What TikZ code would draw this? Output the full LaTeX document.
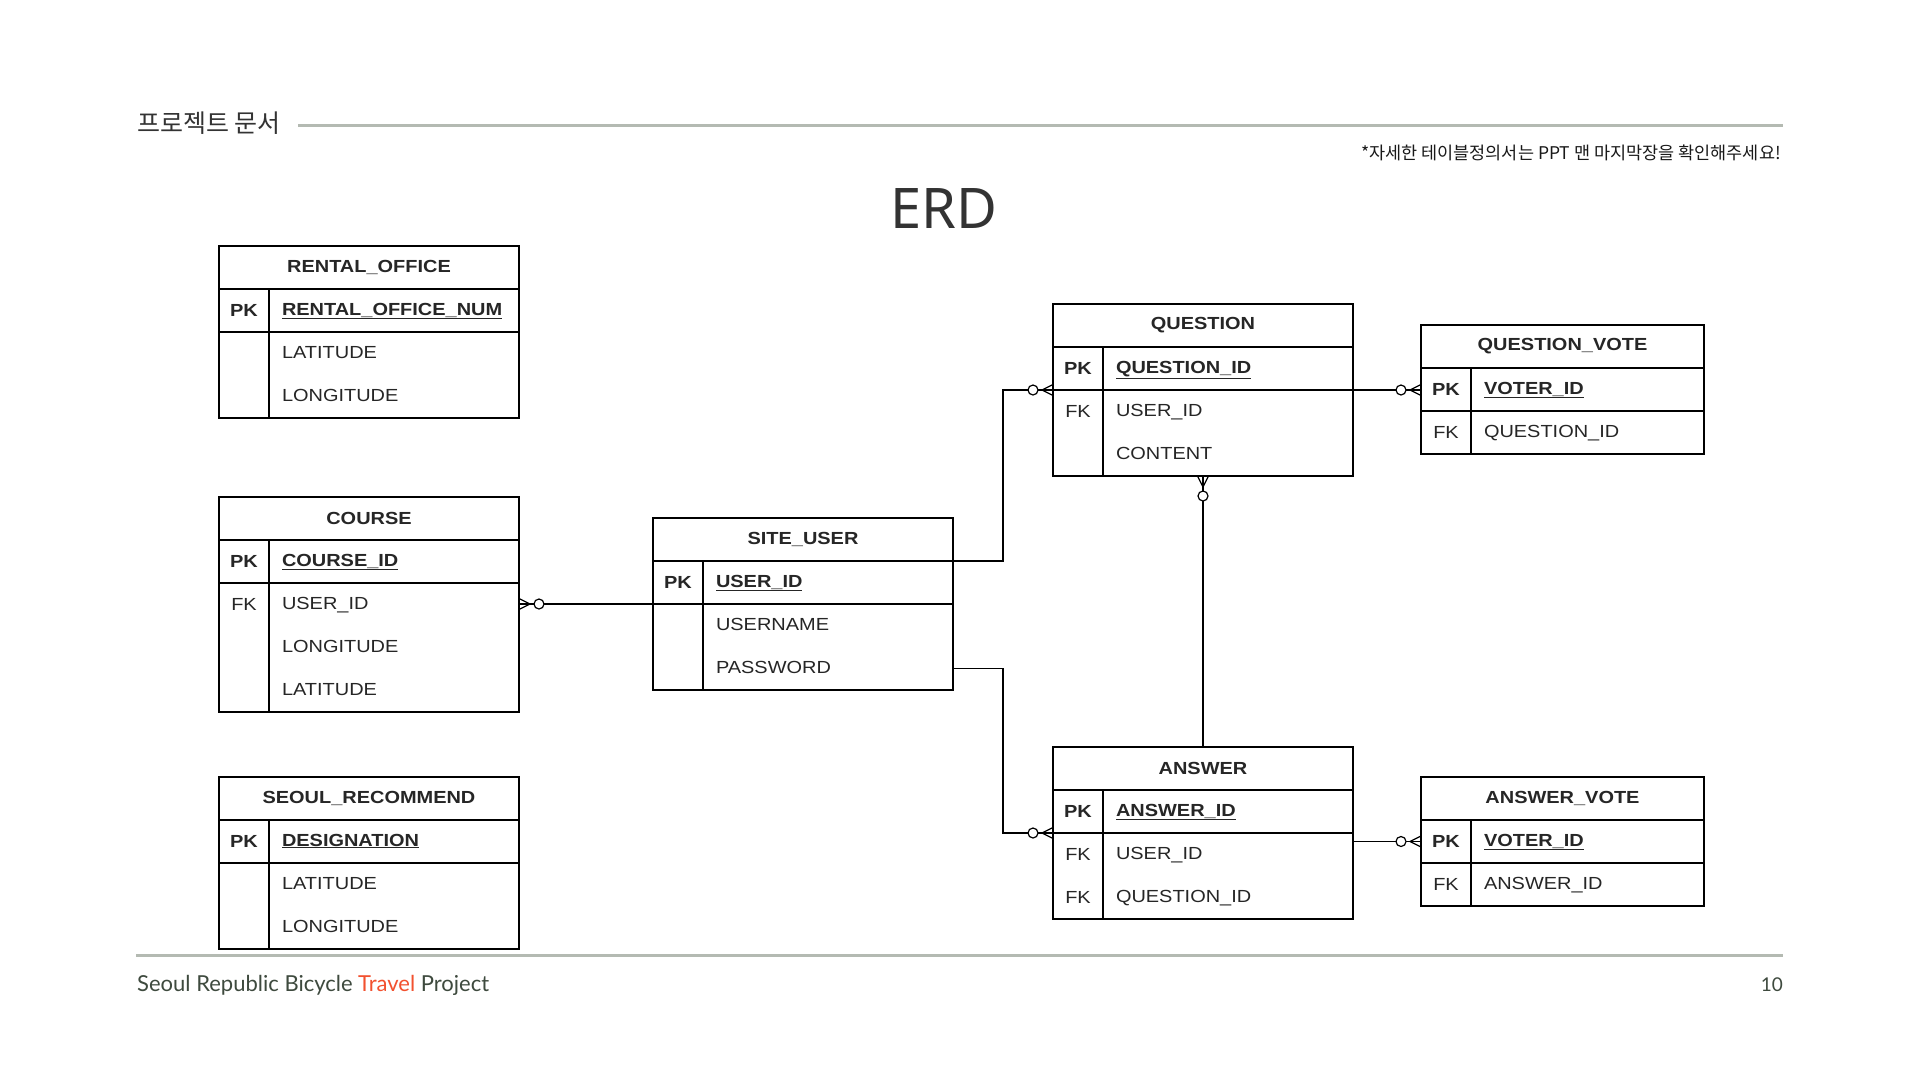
\documentclass[tikz,border=0pt]{standalone}
\usepackage{fontspec}
\setmainfont{Liberation Sans}
\newfontfamily\erdfont{Liberation Sans}[FakeStretch=1.14]
\newfontfamily\krfont{Noto Sans CJK KR}
\newfontfamily\titlefont{Noto Sans}
\newfontfamily\footfont{Lato}
\usetikzlibrary{positioning,fit,decorations.markings}

\definecolor{rulegray}{HTML}{B4BAB2}
\definecolor{textgray}{HTML}{333333}
\definecolor{footgreen}{HTML}{3E4A3E}
\definecolor{travelred}{HTML}{F2512F}

\newcommand{\tabfont}{\erdfont\fontsize{17.5}{20}\selectfont}
\newcommand{\pkname}[1]{\underline{#1}}

\begin{document}
\begin{tikzpicture}[
  x=1pt,
  y=-1pt
]

  \tikzstyle{tabtitle}=[draw,rectangle,line width=1.5pt,outer sep=0pt,inner sep=0pt,minimum width=300pt,minimum height=43pt,anchor=north west,text=black!85,font=\tabfont\bfseries]
  \tikzstyle{keyrow}=[rectangle,line width=1.5pt,outer sep=0pt,inner sep=0pt,minimum width=50pt,minimum height=43pt,text=black!85,font=\tabfont]
  \tikzstyle{keycell}=[keyrow,draw]
  \tikzstyle{pkcell}=[keycell,font=\tabfont\bfseries]
  \tikzstyle{fieldrow}=[rectangle,line width=1.5pt,outer sep=0pt,inner xsep=13pt,inner ysep=0pt,minimum width=250pt,minimum height=43pt,text width=224pt,align=left,text height=13pt,text depth=4pt,text=black!85,font=\tabfont]
  \tikzstyle{fieldcell}=[fieldrow,draw]
  \tikzstyle{pkfield}=[fieldcell,font=\tabfont\bfseries]
  \tikzstyle{narrowtitle}=[minimum width=283pt]
  \tikzstyle{narrow}=[minimum width=233pt,text width=207pt]
  \tikzstyle{group}=[draw,rectangle,line width=1.5pt,inner sep=0pt,outer sep=0pt]
  \tikzstyle{rel}=[draw,line width=1.3pt]
  \tikzstyle{zeromany}=[postaction={decorate,decoration={markings,mark=at position 1 with {
      \draw[line width=1.2pt] (-11pt,0pt) -- (0pt,5.5pt) (-11pt,0pt) -- (0pt,-5.5pt);
      \draw[line width=1.2pt,fill=white] (-20pt,0pt) circle (5pt);}}}]

  \useasboundingbox (0,0) rectangle (1920,1080);
  \fill[white] (0,0) rectangle (1920,1080);

  % header and footer
  \node[anchor=west,inner sep=0pt,text=textgray,font=\krfont\fontsize{25}{28}\selectfont] (hdr) at (137,123) {프로젝트 문서};
  \coordinate (rulel) at (298,125);
  \coordinate (ruler) at (1783,125);
  \draw[rulegray,line width=3pt] (rulel) -- (ruler);
  \node[anchor=east,inner sep=0pt,text=black!90,font=\krfont\fontsize{17.5}{20}\selectfont] (note) at (1781,153) {*자세한 테이블정의서는 PPT 맨 마지막장을 확인해주세요!};
  \node[inner sep=0pt,text=textgray,font=\titlefont\fontsize{56}{60}\selectfont] (erd) at (944,209) {ERD};

  \coordinate (footl) at (136,955);
  \coordinate (footr) at (1783,955);
  \draw[rulegray,line width=3pt] (footl) -- (footr);
  \node[anchor=west,inner sep=0pt,text=footgreen,font=\footfont\fontsize{22}{26}\selectfont] (foot) at (137,985) {Seoul Republic Bicycle \textcolor{travelred}{Travel} Project};
  \node[anchor=east,inner sep=0pt,text=footgreen,font=\footfont\fontsize{19}{24}\selectfont] (pgno) at (1783,985) {10};

  % RENTAL_OFFICE
  \node[tabtitle] (ro) at (219,246) {RENTAL\_OFFICE};
  \node[pkcell, below right=0pt and 0pt of ro.south west] (ro-k1) {PK};
  \node[pkfield, right=0pt of ro-k1] (ro-f1) {\pkname{RENTAL\_OFFICE\_NUM}};
  \node[keyrow, below=0pt of ro-k1] (ro-k2) {};
  \node[fieldrow, below=0pt of ro-f1] (ro-f2) {LATITUDE};
  \node[keyrow, below=0pt of ro-k2] (ro-k3) {};
  \node[fieldrow, below=0pt of ro-f2] (ro-f3) {LONGITUDE};
  \node[group, fit=(ro-k2)(ro-k3)] (ro-kb) {};
  \node[group, fit=(ro-f2)(ro-f3)] (ro-fb) {};

  % COURSE
  \node[tabtitle] (c) at (219,497) {COURSE};
  \node[pkcell, below right=0pt and 0pt of c.south west] (c-k1) {PK};
  \node[pkfield, right=0pt of c-k1] (c-f1) {\pkname{COURSE\_ID}};
  \node[keyrow, below=0pt of c-k1] (c-k2) {FK};
  \node[fieldrow, below=0pt of c-f1] (c-f2) {USER\_ID};
  \node[keyrow, below=0pt of c-k2] (c-k3) {};
  \node[fieldrow, below=0pt of c-f2] (c-f3) {LONGITUDE};
  \node[keyrow, below=0pt of c-k3] (c-k4) {};
  \node[fieldrow, below=0pt of c-f3] (c-f4) {LATITUDE};
  \node[group, fit=(c-k2)(c-k4)] (c-kb) {};
  \node[group, fit=(c-f2)(c-f4)] (c-fb) {};

  % SEOUL_RECOMMEND
  \node[tabtitle] (sr) at (219,777) {SEOUL\_RECOMMEND};
  \node[pkcell, below right=0pt and 0pt of sr.south west] (sr-k1) {PK};
  \node[pkfield, right=0pt of sr-k1] (sr-f1) {\pkname{DESIGNATION}};
  \node[keyrow, below=0pt of sr-k1] (sr-k2) {};
  \node[fieldrow, below=0pt of sr-f1] (sr-f2) {LATITUDE};
  \node[keyrow, below=0pt of sr-k2] (sr-k3) {};
  \node[fieldrow, below=0pt of sr-f2] (sr-f3) {LONGITUDE};
  \node[group, fit=(sr-k2)(sr-k3)] (sr-kb) {};
  \node[group, fit=(sr-f2)(sr-f3)] (sr-fb) {};

  % SITE_USER
  \node[tabtitle] (su) at (653,518) {SITE\_USER};
  \node[pkcell, below right=0pt and 0pt of su.south west] (su-k1) {PK};
  \node[pkfield, right=0pt of su-k1] (su-f1) {\pkname{USER\_ID}};
  \node[keyrow, below=0pt of su-k1] (su-k2) {};
  \node[fieldrow, below=0pt of su-f1] (su-f2) {USERNAME};
  \node[keyrow, below=0pt of su-k2] (su-k3) {};
  \node[fieldrow, below=0pt of su-f2] (su-f3) {PASSWORD};
  \node[group, fit=(su-k2)(su-k3)] (su-kb) {};
  \node[group, fit=(su-f2)(su-f3)] (su-fb) {};

  % QUESTION
  \node[tabtitle] (q) at (1053,304) {QUESTION};
  \node[pkcell, below right=0pt and 0pt of q.south west] (q-k1) {PK};
  \node[pkfield, right=0pt of q-k1] (q-f1) {\pkname{QUESTION\_ID}};
  \node[keyrow, below=0pt of q-k1] (q-k2) {FK};
  \node[fieldrow, below=0pt of q-f1] (q-f2) {USER\_ID};
  \node[keyrow, below=0pt of q-k2] (q-k3) {};
  \node[fieldrow, below=0pt of q-f2] (q-f3) {CONTENT};
  \node[group, fit=(q-k2)(q-k3)] (q-kb) {};
  \node[group, fit=(q-f2)(q-f3)] (q-fb) {};

  % QUESTION_VOTE
  \node[tabtitle, narrowtitle] (qv) at (1421,325) {QUESTION\_VOTE};
  \node[pkcell, below right=0pt and 0pt of qv.south west] (qv-k1) {PK};
  \node[pkfield, narrow, right=0pt of qv-k1] (qv-f1) {\pkname{VOTER\_ID}};
  \node[keycell, below=0pt of qv-k1] (qv-k2) {FK};
  \node[fieldcell, narrow, below=0pt of qv-f1] (qv-f2) {QUESTION\_ID};

  % ANSWER
  \node[tabtitle] (a) at (1053,747) {ANSWER};
  \node[pkcell, below right=0pt and 0pt of a.south west] (a-k1) {PK};
  \node[pkfield, right=0pt of a-k1] (a-f1) {\pkname{ANSWER\_ID}};
  \node[keyrow, below=0pt of a-k1] (a-k2) {FK};
  \node[fieldrow, below=0pt of a-f1] (a-f2) {USER\_ID};
  \node[keyrow, below=0pt of a-k2] (a-k3) {FK};
  \node[fieldrow, below=0pt of a-f2] (a-f3) {QUESTION\_ID};
  \node[group, fit=(a-k2)(a-k3)] (a-kb) {};
  \node[group, fit=(a-f2)(a-f3)] (a-fb) {};

  % ANSWER_VOTE
  \node[tabtitle, narrowtitle] (av) at (1421,777) {ANSWER\_VOTE};
  \node[pkcell, below right=0pt and 0pt of av.south west] (av-k1) {PK};
  \node[pkfield, narrow, right=0pt of av-k1] (av-f1) {\pkname{VOTER\_ID}};
  \node[keycell, below=0pt of av-k1] (av-k2) {FK};
  \node[fieldcell, narrow, below=0pt of av-f1] (av-f2) {ANSWER\_ID};

  % relations
  \coordinate[left=50pt of q-k1.south west] (jq);
  \coordinate[left=50pt of a-k1.south west] (ja);

  \draw[rel,zeromany] (su.south east) -| (jq) -- (q-k1.south west);
  \draw[rel,zeromany] (su-f3.east) -| (ja) -- (a-k1.south west);
  \draw[rel,zeromany] (su-k1.south west) -- (su-k1.south west -| c-f2.east);
  \draw[rel,zeromany] (q-f1.south east) -- (q-f1.south east -| qv-k1.west);
  \draw[rel,zeromany] (a.north) -- (a.north |- q-fb.south);
  \draw[rel,zeromany] (av-k1.west -| a.east) -- (av-k1.west);

\end{tikzpicture}
\end{document}
